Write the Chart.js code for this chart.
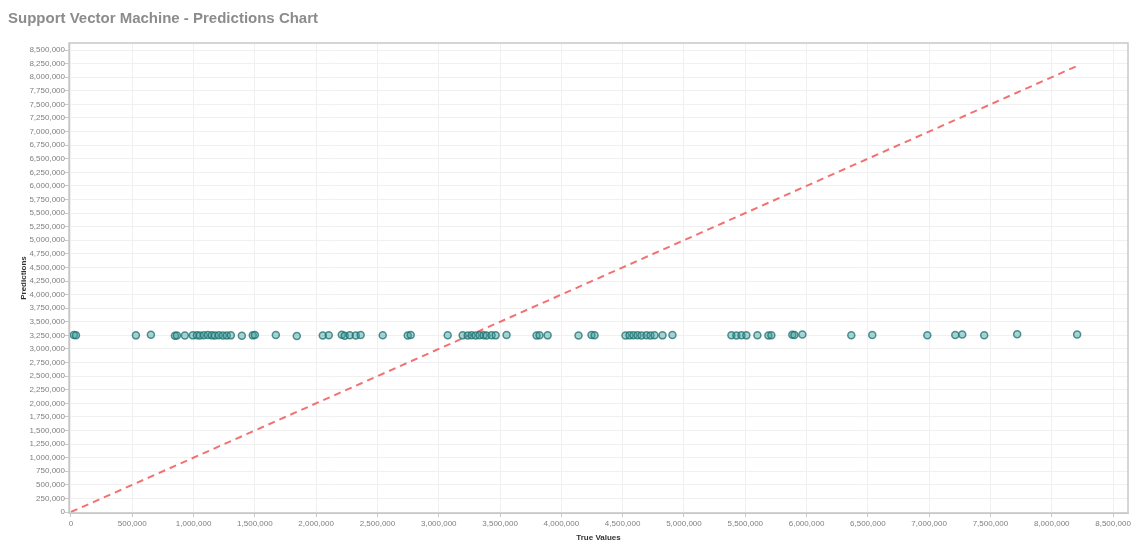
<!DOCTYPE html>
<html lang="en">
<head>
  <meta charset="UTF-8">
  <title>Support Vector Machine - Predictions Chart</title>
  <script src="https://cdn.jsdelivr.net/npm/chart.js"></script>
  <style>
    * { margin: 0; padding: 0; box-sizing: border-box; }
    body { background: #fff; width: 1137px; height: 543px; overflow: hidden; }
    .wrap { position: relative; width: 1137px; height: 543px; }
  </style>
</head>
<body>
<div class="wrap"><canvas id="predChart"></canvas></div>

<script>
  // actual target values (x) and what the SVM predicted for them (y)
  const trueValues = [
    24000, 41000, 530000, 652000, 848000, 864000, 929000, 994000, 1027000, 1051000,
    1084000, 1117000, 1149000, 1174000, 1206000, 1239000, 1271000, 1304000, 1394000, 1483000,
    1500000, 1671000, 1842000, 2054000, 2103000, 2209000, 2233000, 2274000, 2323000, 2363000,
    2543000, 2747000, 2771000, 3073000, 3195000, 3236000, 3268000, 3301000, 3333000, 3366000,
    3390000, 3431000, 3464000, 3553000, 3798000, 3822000, 3888000, 4140000, 4246000, 4271000,
    4523000, 4556000, 4588000, 4621000, 4654000, 4694000, 4727000, 4760000, 4825000, 4906000,
    5387000, 5428000, 5469000, 5509000, 5599000, 5689000, 5713000, 5884000, 5901000, 5966000,
    6365000, 6536000, 6985000, 7213000, 7270000, 7449000, 7718000, 8207000
  ];
  const predictions = [
    3255000, 3252000, 3250000, 3262000, 3241000, 3246000, 3248000, 3250000, 3253000, 3249000,
    3251000, 3255000, 3250000, 3247000, 3252000, 3249000, 3246000, 3250000, 3244000, 3250000,
    3256000, 3259000, 3238000, 3248000, 3252000, 3263000, 3245000, 3251000, 3248000, 3256000,
    3253000, 3249000, 3255000, 3254000, 3250000, 3247000, 3252000, 3249000, 3254000, 3251000,
    3248000, 3253000, 3250000, 3256000, 3246000, 3252000, 3250000, 3248000, 3255000, 3251000,
    3249000, 3250000, 3252000, 3254000, 3247000, 3251000, 3249000, 3253000, 3250000, 3255000,
    3251000, 3249000, 3252000, 3250000, 3254000, 3247000, 3253000, 3262000, 3258000, 3264000,
    3252000, 3256000, 3254000, 3258000, 3266000, 3254000, 3270000, 3268000
  ];

  const xTickValues = [0, 500000, 1000000, 1500000, 2000000, 2500000, 3000000, 3500000, 4000000,
    4500000, 5000000, 5500000, 6000000, 6500000, 7000000, 7500000, 8000000, 8500000];
  const yTickValues = [0, 250000, 500000, 750000, 1000000, 1250000, 1500000, 1750000, 2000000,
    2250000, 2500000, 2750000, 3000000, 3250000, 3500000, 3750000, 4000000, 4250000, 4500000,
    4750000, 5000000, 5250000, 5500000, 5750000, 6000000, 6250000, 6500000, 6750000, 7000000,
    7250000, 7500000, 7750000, 8000000, 8250000, 8500000];

  const points = trueValues.map((v, i) => ({ x: v, y: predictions[i] }));
  const hi = Math.max(...trueValues);
  // perfect-prediction reference line y = x
  const idealLine = [{ x: 0, y: 0 }, { x: hi, y: hi }];

  const fmt = v => Number(v).toLocaleString('en-US');
  const tickFont = { family: 'Liberation Sans, Arial, sans-serif', size: 8 };

  // grey frame around the plot area
  const frame = {
    id: 'frame',
    afterDraw(chart) {
      const a = chart.chartArea, c = chart.ctx;
      c.save();
      c.strokeStyle = '#c8c8c8';
      c.lineWidth = 1.5;
      c.strokeRect(a.left, a.top, a.right - a.left, a.bottom - a.top);
      c.restore();
    }
  };

  new Chart(document.getElementById('predChart'), {
    type: 'scatter',
    data: {
      datasets: [
        {
          label: 'Predictions',
          data: points,
          pointRadius: 3.5,
          pointBackgroundColor: 'rgba(60,160,160,0.45)',
          pointBorderColor: 'rgba(30,110,110,0.75)',
          pointBorderWidth: 1.5
        },
        {
          label: 'Ideal',
          type: 'line',
          data: idealLine,
          borderColor: '#f27272',
          borderWidth: 2,
          borderDash: [7, 5],
          pointRadius: 0,
          fill: false
        }
      ]
    },
    options: {
      responsive: true,
      maintainAspectRatio: false,
      animation: false,
      layout: { padding: { left: 8, right: 9, top: 0, bottom: 0 } },
      plugins: {
        legend: { display: false },
        tooltip: { enabled: false },
        title: {
          display: true,
          text: 'Support Vector Machine - Predictions Chart',
          align: 'start',
          color: '#8c8c8c',
          font: { family: 'Liberation Sans, Arial, sans-serif', size: 15, weight: 'bold' },
          padding: { top: 10, bottom: 15 }
        }
      },
      scales: {
        x: {
          type: 'linear',
          min: -16000,
          max: 8622000,
          afterBuildTicks: s => { s.ticks = xTickValues.map(v => ({ value: v })); },
          afterFit: s => { s.height = 30; },
          ticks: { color: '#808080', font: tickFont, padding: 2, maxRotation: 0, autoSkip: false, callback: fmt },
          grid: { color: '#f0f0f0', tickLength: 4, tickColor: '#c8c8c8' },
          border: { color: '#c8c8c8' },
          title: {
            display: true,
            text: 'True Values',
            color: '#333',
            font: { family: 'Liberation Sans, Arial, sans-serif', size: 8, weight: 'bold' },
            padding: { top: 0, bottom: 0 }
          }
        },
        y: {
          type: 'linear',
          min: -18000,
          max: 8629000,
          afterBuildTicks: s => { s.ticks = yTickValues.map(v => ({ value: v })); },
          afterFit: s => { s.width = 61; },
          ticks: { color: '#808080', font: tickFont, padding: 0, autoSkip: false, callback: fmt },
          grid: { color: '#f0f0f0', tickLength: 4, tickColor: '#c8c8c8' },
          border: { color: '#c8c8c8' },
          title: {
            display: true,
            text: 'Predictions',
            color: '#333',
            font: { family: 'Liberation Sans, Arial, sans-serif', size: 8, weight: 'bold' },
            padding: { top: 11, bottom: 4 }
          }
        }
      }
    },
    plugins: [frame]
  });
</script>
</body>
</html>
